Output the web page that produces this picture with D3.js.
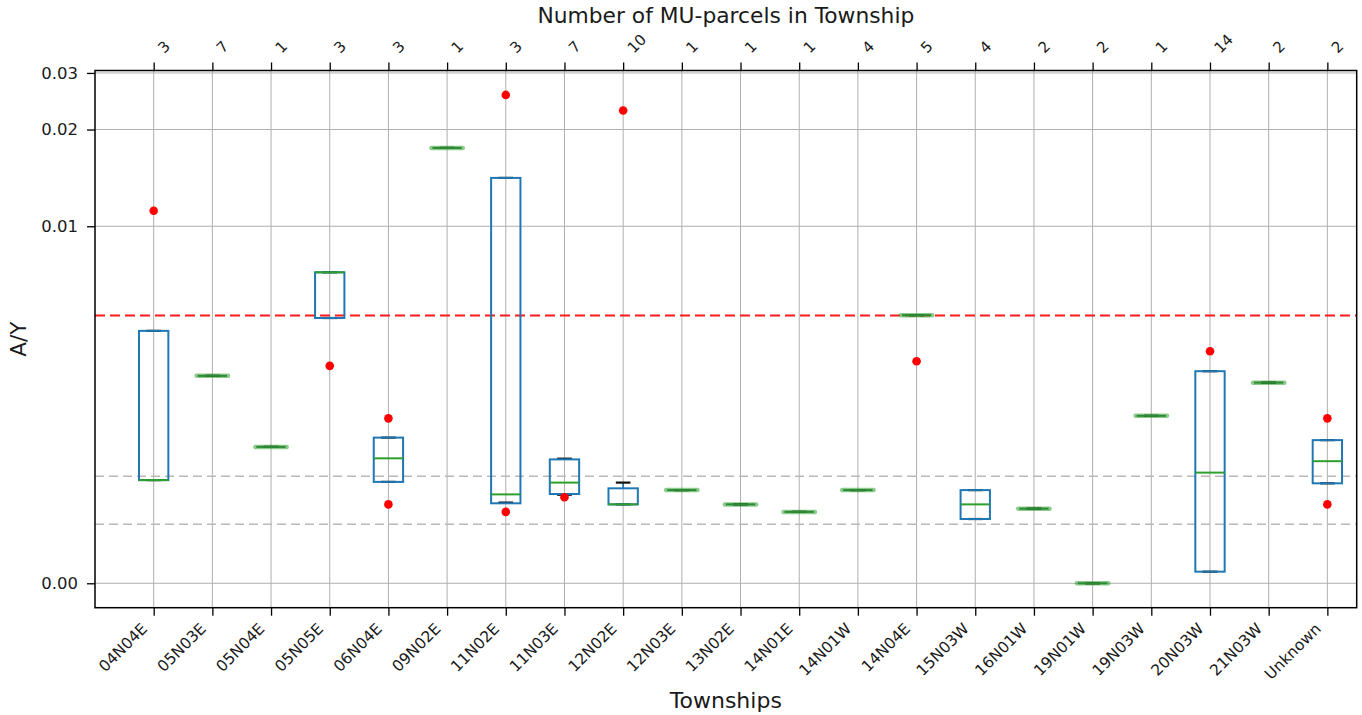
<!DOCTYPE html>
<html>
<head>
<meta charset="utf-8">
<script src="https://cdn.jsdelivr.net/npm/d3@7"></script>
<style>
  body { margin: 0; background: #fff; }
  text { font-family: "DejaVu Sans", sans-serif; fill: #1a1a1a; }
</style>
</head>
<body>
<svg id="chart" width="1362" height="715"></svg>
<script>
// Townships and number of MU-parcels per township
const townships = ["04N04E","05N03E","05N04E","05N05E","06N04E","09N02E","11N02E","11N03E","12N02E","12N03E",
  "13N02E","14N01E","14N01W","14N04E","15N03W","16N01W","19N01W","19N03W","20N03W","21N03W","Unknown"];
const parcelCounts = [3,7,1,3,3,1,3,7,10,1,1,1,4,5,4,2,2,1,14,2,2];

// Box statistics of A/Y per township
const q1Values      = [0.00289,0.00581,0.00382,0.00743,0.00284,0.01753,0.00224,0.00250,0.00221,0.00261,
  0.00221,0.00200,0.00261,0.00751,0.00180,0.00209,0.0,0.00469,0.000325,0.00562,0.00280];
const medianValues  = [0.00289,0.00581,0.00382,0.00871,0.00350,0.01753,0.00249,0.00282,0.00221,0.00261,
  0.00221,0.00200,0.00261,0.00751,0.00221,0.00209,0.0,0.00469,0.00310,0.00562,0.00342];
const q3Values      = [0.00707,0.00581,0.00382,0.00871,0.00408,0.01753,0.01414,0.00347,0.00266,0.00261,
  0.00221,0.00200,0.00261,0.00751,0.00261,0.00209,0.0,0.00469,0.00594,0.00562,0.00401];
const whiskerLow    = [0.00289,0.00581,0.00382,0.00743,0.00284,0.01753,0.00226,0.00248,0.00221,0.00261,
  0.00221,0.00200,0.00261,0.00751,0.00180,0.00209,0.0,0.00469,0.000325,0.00562,0.00280];
const whiskerHigh   = [0.00707,0.00581,0.00382,0.00871,0.00408,0.01753,0.01414,0.00349,0.00282,0.00261,
  0.00221,0.00200,0.00261,0.00751,0.00261,0.00209,0.0,0.00469,0.00594,0.00562,0.00401];
const outliers = [[0.01117],[],[],[0.00609],[0.00462,0.00221],[],[0.02563,0.00200],[0.00241],[0.02292],[],
  [],[],[],[0.00622],[],[],[],[],[0.00650],[],[0.00462,0.00221]];

const yTickValues = [0, 0.01, 0.02, 0.03];
const thresholdLine = 0.0075;
const referenceLines = [0.003, 0.00165];

// Symmetric-log transform: linear below 0.01, logarithmic above
const linthresh = 0.01;
const linscale = 1 / (1 - 1 / 10);
function symlog(v) {
  const a = Math.abs(v), s = Math.sign(v) || 1;
  return a <= linthresh ? v / linthresh * linscale : s * (linscale + Math.log10(a / linthresh));
}

const svg = d3.select("#chart");
const plotL = 95, plotR = 1356.7, plotT = 70.5, plotB = 607.7;

const x = d3.scaleLinear().domain([0, townships.length + 0.5]).range([plotL, plotR]);
const pos = i => x(i + 1);

// y scale built on transformed values with 5% margins
const allVals = [].concat(q1Values, q3Values, whiskerLow, whiskerHigh, ...outliers);
const tMin = symlog(d3.min(allVals)), tMax = symlog(d3.max(allVals));
const tPad = (tMax - tMin) * 0.05;
const yLin = d3.scaleLinear().domain([tMin - tPad, tMax + tPad]).range([plotB, plotT]);
function y(v) { return yLin(symlog(v)); }
y.range = () => yLin.range();
y.copy = () => y;
y.domain = () => yLin.domain();

const stepPx = pos(1) - pos(0);
const boxW = 0.5 * stepPx, capW = 0.25 * stepPx;

// grid
const grid = svg.append("g");
grid.selectAll("line.vgrid").data(townships).join("line").attr("class", "vgrid")
  .attr("x1", (d, i) => pos(i)).attr("x2", (d, i) => pos(i))
  .attr("y1", plotT).attr("y2", plotB)
  .style("stroke", "#b0b0b0").style("stroke-width", 1);
grid.selectAll("line.hgrid").data(yTickValues).join("line").attr("class", "hgrid")
  .attr("x1", plotL).attr("x2", plotR)
  .attr("y1", d => y(d)).attr("y2", d => y(d))
  .style("stroke", "#b0b0b0").style("stroke-width", 1);

// reference lines
const refs = svg.append("g");
refs.selectAll("line.ref").data(referenceLines).join("line").attr("class", "ref")
  .attr("x1", plotL).attr("x2", plotR)
  .attr("y1", d => y(d)).attr("y2", d => y(d))
  .style("stroke", "#b8b8b8").style("stroke-width", 1.5).style("stroke-dasharray", "9,5");
refs.append("line").attr("class", "threshold")
  .attr("x1", plotL).attr("x2", plotR)
  .attr("y1", y(thresholdLine)).attr("y2", y(thresholdLine))
  .style("stroke", "#ff1a1a").style("stroke-width", 1.9).style("stroke-dasharray", "10,5");

// boxes
const boxLayer = svg.append("g");
const boxes = boxLayer.selectAll("g.box").data(townships.map((t, i) => i)).join("g").attr("class", "box");
// whiskers
boxes.append("line").attr("x1", i => pos(i)).attr("x2", i => pos(i))
  .attr("y1", i => y(q3Values[i])).attr("y2", i => y(whiskerHigh[i]))
  .style("stroke", "#1f77b4").style("stroke-width", 1.8);
boxes.append("line").attr("x1", i => pos(i)).attr("x2", i => pos(i))
  .attr("y1", i => y(q1Values[i])).attr("y2", i => y(whiskerLow[i]))
  .style("stroke", "#1f77b4").style("stroke-width", 1.8);
// caps
boxes.append("line").attr("x1", i => pos(i) - capW / 2).attr("x2", i => pos(i) + capW / 2)
  .attr("y1", i => y(whiskerHigh[i])).attr("y2", i => y(whiskerHigh[i]))
  .style("stroke", "#111").style("stroke-width", 2.2);
boxes.append("line").attr("x1", i => pos(i) - capW / 2).attr("x2", i => pos(i) + capW / 2)
  .attr("y1", i => y(whiskerLow[i])).attr("y2", i => y(whiskerLow[i]))
  .style("stroke", "#111").style("stroke-width", 2.2);
// box body
boxes.append("rect")
  .attr("x", i => pos(i) - boxW / 2).attr("width", boxW)
  .attr("y", i => y(q3Values[i])).attr("height", i => y(q1Values[i]) - y(q3Values[i]))
  .style("fill", "none").style("stroke", "#1f77b4").style("stroke-width", 2);
// collapsed boxes: single value shown as a soft green bar
boxes.filter(i => q1Values[i] === q3Values[i]).append("line")
  .attr("x1", i => pos(i) - boxW / 2 - 1).attr("x2", i => pos(i) + boxW / 2 + 1)
  .attr("y1", i => y(medianValues[i])).attr("y2", i => y(medianValues[i]))
  .style("stroke", "#2ca02c").style("stroke-opacity", 0.55).style("stroke-width", 4.5)
  .style("stroke-linecap", "round");
// medians
boxes.append("line").attr("x1", i => pos(i) - boxW / 2).attr("x2", i => pos(i) + boxW / 2)
  .attr("y1", i => y(medianValues[i])).attr("y2", i => y(medianValues[i]))
  .style("stroke", i => q1Values[i] === q3Values[i] ? "#2e8a36" : "#2ca02c").style("stroke-width", 2);
// fliers
boxes.selectAll("circle").data(i => outliers[i].map(v => ({i, v}))).join("circle")
  .attr("cx", d => pos(d.i)).attr("cy", d => y(d.v)).attr("r", 4.3)
  .style("fill", "#ff0000");

// frame
svg.append("rect").attr("x", plotL).attr("y", plotT).attr("width", plotR - plotL).attr("height", plotB - plotT)
  .style("fill", "none").style("stroke", "#000").style("stroke-width", 1.5);

// axes
const xBottom = d3.axisBottom(x).tickValues(townships.map((t, i) => i + 1))
  .tickFormat((d) => townships[d - 1]).tickSize(8).tickPadding(4);
const gx = svg.append("g").attr("transform", `translate(0,${plotB})`).call(xBottom);
gx.select(".domain").remove();
gx.selectAll("text")
  .attr("font-size", 15.5).attr("text-anchor", "end")
  .attr("x", 0).attr("y", 0).attr("dy", 0)
  .attr("transform", "translate(-6,22) rotate(-45)");

const xTop = d3.axisTop(x).tickValues(townships.map((t, i) => i + 1))
  .tickFormat((d) => parcelCounts[d - 1]).tickSize(8).tickPadding(4);
const gt = svg.append("g").attr("transform", `translate(0,${plotT})`).call(xTop);
gt.select(".domain").remove();
gt.selectAll("text")
  .attr("font-size", 15).attr("text-anchor", "start")
  .attr("x", 0).attr("y", 0).attr("dy", 0)
  .attr("transform", "translate(10,-16.5) rotate(-45)");

const yAxis = d3.axisLeft(y).tickValues(yTickValues).tickFormat(d3.format(".2f")).tickSize(8).tickPadding(9);
const gy = svg.append("g").attr("transform", `translate(${plotL},0)`).call(yAxis);
gy.select(".domain").remove();
gy.selectAll("text").attr("font-size", 16.5);

svg.selectAll(".tick line").style("stroke", "#000").style("stroke-width", 1.3);
svg.selectAll(".tick text").style("fill", "#1a1a1a").style("font-family", "DejaVu Sans");

// titles
svg.append("text").attr("x", (plotL + plotR) / 2).attr("y", 23).attr("text-anchor", "middle")
  .attr("font-size", 21.8).text("Number of MU-parcels in Township");
svg.append("text").attr("x", (plotL + plotR) / 2).attr("y", 708).attr("text-anchor", "middle")
  .attr("font-size", 22).text("Townships");
svg.append("text").attr("transform", `translate(26,${(plotT + plotB) / 2}) rotate(-90)`)
  .attr("text-anchor", "middle").attr("font-size", 21.5).text("A/Y");
</script>
</body>
</html>
